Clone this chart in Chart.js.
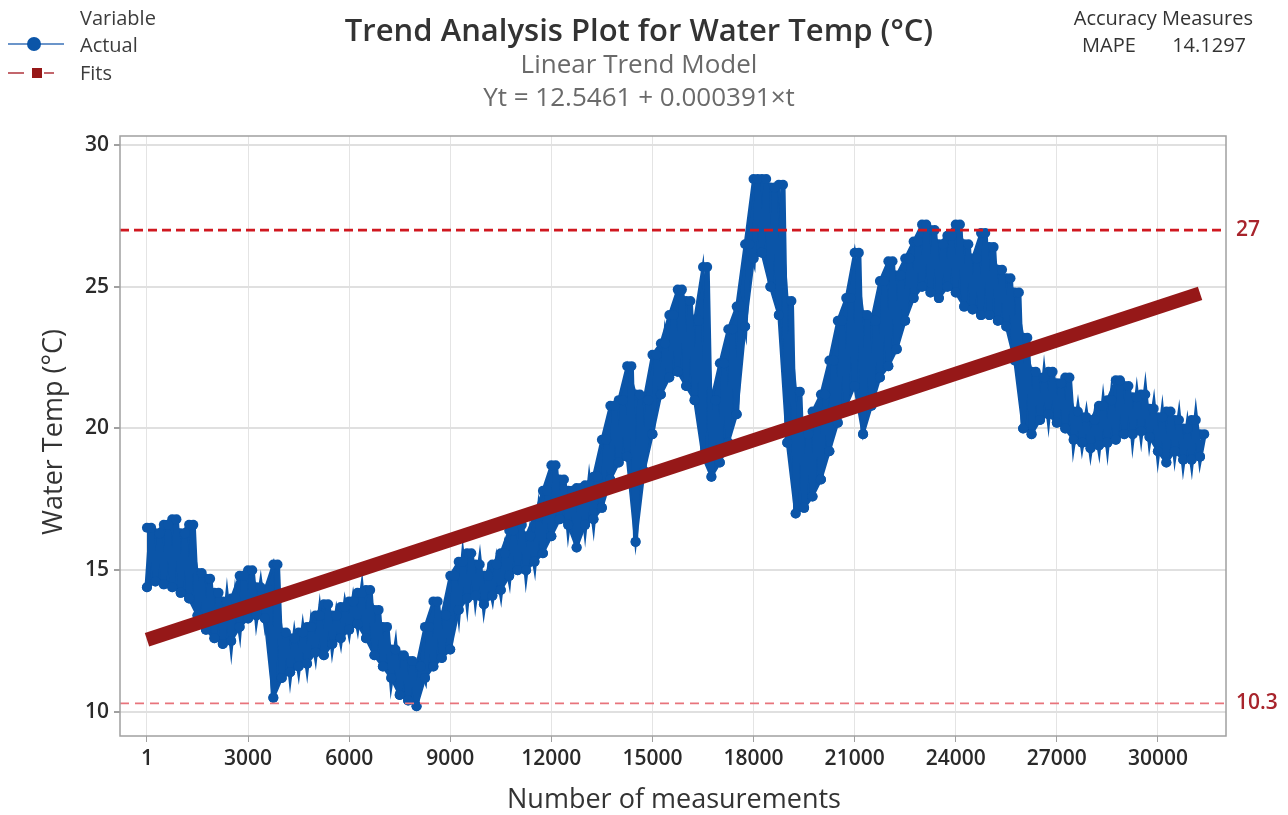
<!DOCTYPE html>
<html>
<head>
<meta charset="utf-8">
<title>Trend Analysis Plot for Water Temp (°C)</title>
<script src="https://cdn.jsdelivr.net/npm/chart.js@4.4.1/dist/chart.umd.min.js"></script>
<style>
  html, body { margin: 0; padding: 0; background: #ffffff; }
  #wrap { position: relative; width: 1288px; height: 815px; }
  canvas { display: block; }
</style>
</head>
<body>
<div id="wrap"><canvas id="chart" width="1288" height="815"></canvas></div>
<script>
// Measurement index step between successive envelope readings
const STEP = 250;

// Lower and upper envelope of the measured water temperature (°C), one pair per STEP measurements
const actualLow = [
  14.4, 14.6, 14.5, 14.4, 14.2, 14.0, 13.4, 12.9, 12.6, 12.4,
  12.5, 13.0, 13.3, 13.4, 13.3, 10.5, 11.2, 11.4, 11.6, 11.7,
  12.1, 12.0, 12.4, 12.6, 12.9, 13.1, 12.6, 12.0, 11.6, 11.2,
  10.6, 10.4, 10.2, 11.2, 11.6, 11.9, 12.2, 13.6, 14.0, 14.1,
  13.8, 14.1, 14.3, 14.8, 15.0, 15.0, 15.3, 15.6, 16.2, 16.8,
  16.6, 15.8, 16.6, 16.8, 17.2, 18.2, 18.8, 19.0, 16.0, 18.5,
  19.8, 21.2, 21.8, 22.0, 21.5, 21.0, 19.0, 18.3, 18.8, 19.5,
  20.5, 23.6, 26.0, 26.2, 25.0, 24.0, 19.5, 17.0, 17.2, 17.6,
  18.2, 19.2, 20.2, 20.8, 21.5, 19.8, 20.8, 21.8, 22.2, 22.8,
  23.8, 24.6, 25.0, 24.8, 24.6, 25.0, 24.8, 24.3, 24.2, 24.0,
  24.0, 23.8, 23.6, 22.4, 20.0, 19.8, 20.3, 20.5, 20.2, 20.0,
  19.6, 19.5, 19.3, 19.4, 19.5, 19.6, 19.8, 19.8, 19.9, 19.7,
  19.2, 18.8, 19.2, 18.9, 18.9, 19.0
];
const actualHigh = [
  16.5, 16.3, 16.6, 16.8, 16.3, 16.6, 14.9, 14.7, 14.2, 13.9,
  14.0, 14.8, 15.0, 14.4, 14.3, 15.2, 12.8, 12.6, 12.8, 13.0,
  13.4, 13.8, 13.4, 13.7, 13.9, 14.2, 14.3, 13.6, 13.0, 12.2,
  12.0, 11.8, 11.6, 13.0, 13.9, 13.4, 14.8, 15.3, 15.6, 15.2,
  14.8, 15.2, 15.6, 16.4, 16.6, 16.2, 16.9, 17.8, 18.7, 18.2,
  17.8, 17.9, 18.0, 18.3, 19.6, 20.8, 21.0, 22.2, 21.2, 21.0,
  22.6, 23.0, 24.0, 24.9, 24.5, 23.8, 25.7, 21.0, 22.3, 23.5,
  24.3, 26.5, 28.8, 28.8, 28.5, 28.6, 24.5, 21.3, 19.8, 20.6,
  21.2, 22.4, 23.8, 24.6, 26.2, 24.0, 23.8, 25.2, 25.9, 25.4,
  26.0, 26.6, 27.2, 27.0, 26.5, 26.8, 27.2, 26.5, 26.0, 26.9,
  26.4, 25.6, 25.3, 24.8, 23.2, 22.0, 21.8, 22.0, 21.6, 21.8,
  20.6, 20.4, 20.3, 20.8, 21.0, 21.7, 21.5, 21.1, 21.2, 20.7,
  20.4, 20.6, 20.3, 20.0, 20.3, 19.8
];

// Linear trend model Yt = 12.5461 + 0.000391 × t, over the measured range
const trendIntercept = 12.5461;
const trendSlope = 0.000391;
const trendT = [1, 31250];

// Reference limits and axis ticks
const refLines = [27, 10.3];
const xTicks = [1, 3000, 6000, 9000, 12000, 15000, 18000, 21000, 24000, 27000, 30000];
const yTicks = [10, 15, 20, 25, 30];
const accuracy = { label: 'MAPE', value: '14.1297' };

// Actual series: alternate low/high readings so the trace follows its daily swing
const actualPoints = [];
const lowEdge = [];
const highEdge = [];
actualLow.forEach((lo, i) => {
  const t = i * STEP;
  actualPoints.push({ x: t, y: lo });
  actualPoints.push({ x: t + STEP / 2, y: actualHigh[i] });
  lowEdge.push({ x: t, y: lo });
  highEdge.push({ x: t, y: actualHigh[i] });
});
const fitPoints = trendT.map(t => ({ x: t, y: trendIntercept + trendSlope * t }));

const FONT = '"Open Sans", "Noto Sans", "DejaVu Sans", sans-serif';
const BLUE = '#0b55a8';
const RED_REF = '#d01820';
const RED_REF_LIGHT = '#e8747c';
const RED_LABEL = '#a8242c';

const decorations = {
  id: 'decorations',
  afterDatasetsDraw(chart) {
    const { ctx, chartArea: a, scales } = chart;
    const y = scales.y;
    ctx.save();
    // reference lines
    refLines.forEach((v, k) => {
      const py = y.getPixelForValue(v);
      ctx.beginPath();
      ctx.strokeStyle = k === 0 ? RED_REF : RED_REF_LIGHT;
      ctx.lineWidth = k === 0 ? 2.6 : 1.6;
      ctx.setLineDash(k === 0 ? [9, 5] : [9, 6]);
      ctx.moveTo(a.left, py);
      ctx.lineTo(a.right, py);
      ctx.stroke();
    });
    ctx.setLineDash([]);
    // plot frame
    ctx.strokeStyle = '#a0a0a0';
    ctx.lineWidth = 1.5;
    ctx.strokeRect(a.left, a.top, a.right - a.left, a.bottom - a.top);
    // reference labels
    ctx.fillStyle = RED_LABEL;
    ctx.font = '600 21px ' + FONT;
    ctx.textAlign = 'left';
    ctx.textBaseline = 'middle';
    refLines.forEach(v => {
      ctx.fillText(String(v), a.right + 10, y.getPixelForValue(v));
    });
    ctx.restore();
  },
  afterDraw(chart) {
    const { ctx } = chart;
    ctx.save();
    ctx.textBaseline = 'middle';
    // title block
    ctx.textAlign = 'center';
    ctx.fillStyle = '#333333';
    ctx.font = '600 31px ' + FONT;
    ctx.fillText('Trend Analysis Plot for Water Temp (°C)', 639, 32);
    ctx.fillStyle = '#6a6a6a';
    ctx.font = '26px ' + FONT;
    ctx.fillText('Linear Trend Model', 639, 66);
    ctx.fillText('Yt = 12.5461 + 0.000391×t', 639, 99);
    // axis titles
    ctx.fillStyle = '#333333';
    ctx.font = '500 27px ' + FONT;
    ctx.fillText('Number of measurements', 674, 800);
    ctx.save();
    ctx.translate(54, 432);
    ctx.rotate(-Math.PI / 2);
    ctx.fillText('Water Temp (°C)', 0, 0);
    ctx.restore();
    // legend
    ctx.textAlign = 'left';
    ctx.fillStyle = '#3c3c3c';
    ctx.font = '20px ' + FONT;
    ctx.fillText('Variable', 80, 19);
    ctx.fillText('Actual', 80, 46);
    ctx.fillText('Fits', 80, 74);
    ctx.strokeStyle = '#3a72b8';
    ctx.lineWidth = 1.5;
    ctx.beginPath(); ctx.moveTo(8, 44); ctx.lineTo(64, 44); ctx.stroke();
    ctx.fillStyle = BLUE;
    ctx.beginPath(); ctx.arc(34, 44, 7, 0, Math.PI * 2); ctx.fill();
    ctx.strokeStyle = '#b0343c';
    ctx.beginPath(); ctx.moveTo(8, 73); ctx.lineTo(24, 73); ctx.moveTo(44, 73); ctx.lineTo(54, 73); ctx.stroke();
    ctx.fillStyle = '#961818';
    ctx.fillRect(32, 68, 10, 10);
    // accuracy measures
    ctx.fillStyle = '#333333';
    ctx.font = '20px ' + FONT;
    ctx.textAlign = 'right';
    ctx.fillText('Accuracy Measures', 1253, 19);
    ctx.textAlign = 'left';
    ctx.fillText(accuracy.label, 1082, 46);
    ctx.textAlign = 'right';
    ctx.fillText(accuracy.value, 1246, 46);
    ctx.restore();
  }
};

new Chart(document.getElementById('chart'), {
  type: 'scatter',
  data: {
    datasets: [
      {
        label: 'Actual',
        data: actualPoints,
        showLine: true,
        borderColor: BLUE,
        backgroundColor: BLUE,
        borderWidth: 5,
        pointRadius: 5,
        pointBorderWidth: 0,
        order: 2
      },
      {
        label: 'Actual low',
        data: lowEdge,
        showLine: true,
        borderColor: BLUE,
        backgroundColor: BLUE,
        borderWidth: 3,
        pointRadius: 5,
        pointBorderWidth: 0,
        fill: false,
        order: 3
      },
      {
        label: 'Actual high',
        data: highEdge,
        showLine: true,
        borderColor: BLUE,
        backgroundColor: BLUE,
        borderWidth: 3,
        pointRadius: 5,
        pointBorderWidth: 0,
        fill: '-1',
        order: 3
      },
      {
        label: 'Fits',
        data: fitPoints,
        showLine: true,
        borderColor: '#961818',
        backgroundColor: '#961818',
        borderWidth: 14,
        borderCapStyle: 'butt',
        pointRadius: 0,
        order: 1
      }
    ]
  },
  options: {
    responsive: false,
    animation: false,
    events: [],
    layout: { padding: { top: 136, right: 62, left: 0, bottom: 0 } },
    plugins: {
      legend: { display: false },
      tooltip: { enabled: false },
      title: { display: false },
      filler: { propagate: false }
    },
    scales: {
      x: {
        type: 'linear',
        min: -800,
        max: 32020,
        afterFit(s) { s.height = 79; },
        afterBuildTicks(s) { s.ticks = xTicks.map(v => ({ value: v })); },
        border: { display: false },
        grid: { color: '#e4e4e4', lineWidth: 1, tickColor: '#a0a0a0', tickLength: 6, drawTicks: true },
        ticks: {
          color: '#2a2a2a',
          font: { family: FONT, size: 21, weight: '600' },
          padding: 4,
          maxRotation: 0,
          autoSkip: false,
          callback: v => String(v)
        }
      },
      y: {
        type: 'linear',
        min: 9.15,
        max: 30.32,
        afterFit(s) { s.width = 120; },
        afterBuildTicks(s) { s.ticks = yTicks.map(v => ({ value: v })); },
        border: { display: false },
        grid: { color: '#e0e0e0', lineWidth: 2, tickColor: '#a0a0a0', tickLength: 6, drawTicks: true },
        ticks: {
          color: '#2a2a2a',
          font: { family: FONT, size: 21, weight: '600' },
          padding: 5,
          autoSkip: false,
          callback: v => String(v)
        }
      }
    }
  },
  plugins: [decorations]
});
</script>
</body>
</html>
